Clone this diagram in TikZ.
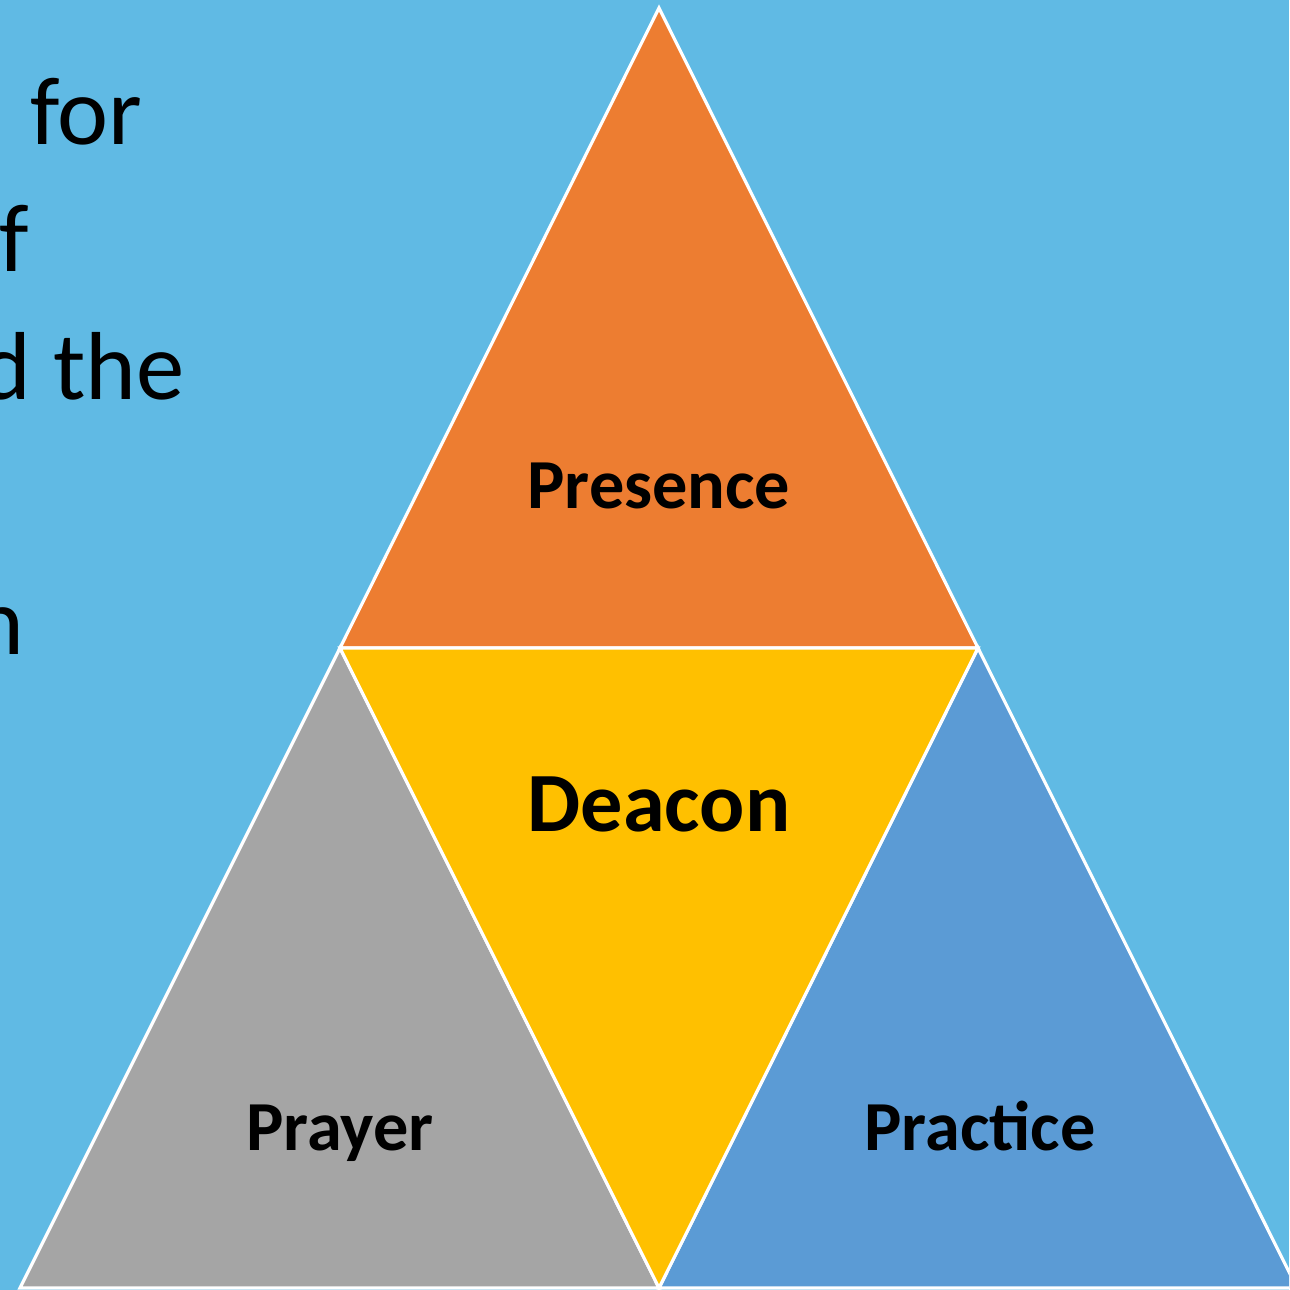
\documentclass[tikz,border=0pt]{standalone}
\usepackage{fontspec}
\setmainfont{Carlito}
\definecolor{backblue}{RGB}{96,186,228}
\definecolor{presorange}{RGB}{237,125,49}
\definecolor{deacgold}{RGB}{255,192,0}
\definecolor{praygray}{RGB}{165,165,165}
\definecolor{pracblue}{RGB}{91,155,213}

\begin{document}
\begin{tikzpicture}[
    piece/.style={draw=white, line width=0.9pt, line join=miter},
    word/.style={font=\fontsize{20}{24}\selectfont\bfseries, anchor=base},
    body/.style={font=\fontsize{27.5}{33}\selectfont, anchor=base east, inner sep=0pt}]
  \useasboundingbox (0,0) rectangle (12.89,12.90);
  \clip (0,0) rectangle (12.89,12.90);
  \fill[backblue] (0,0) rectangle (12.89,12.90);

  % text cut off at the left edge
  \node[body] (linea) at (1.43,11.45) {for};
  \node[body] (lineb) at (0.30,10.18) {f};
  \node[body] (linec) at (1.85,8.90) {d the};
  \node[body] (lined) at (0.25,6.35) {n};

  % the four triangles
  \coordinate (top) at (6.59,12.82);
  \coordinate (left) at (3.40,6.42);
  \coordinate (right) at (9.78,6.42);
  \coordinate (mid) at (6.59,0.02);
  \coordinate (farleft) at (0.20,0.02);
  \coordinate (farright) at (12.97,0.02);

  \filldraw[piece, fill=presorange] (top) -- (left) -- (right) -- cycle;
  \filldraw[piece, fill=praygray] (left) -- (farleft) -- (mid) -- cycle;
  \filldraw[piece, fill=pracblue] (right) -- (mid) -- (farright) -- cycle;
  \filldraw[piece, fill=deacgold] (left) -- (right) -- (mid) -- cycle;

  \node[word] (presence) at (6.59,7.81) {Presence};
  \node[word, font=\fontsize{24}{29}\selectfont\bfseries] (deacon) at (6.59,4.58) {Deacon};
  \node[word] (prayer) at (3.40,1.40) {Prayer};
  \node[word] (practice) at (9.80,1.40) {Practice};
\end{tikzpicture}
\end{document}
